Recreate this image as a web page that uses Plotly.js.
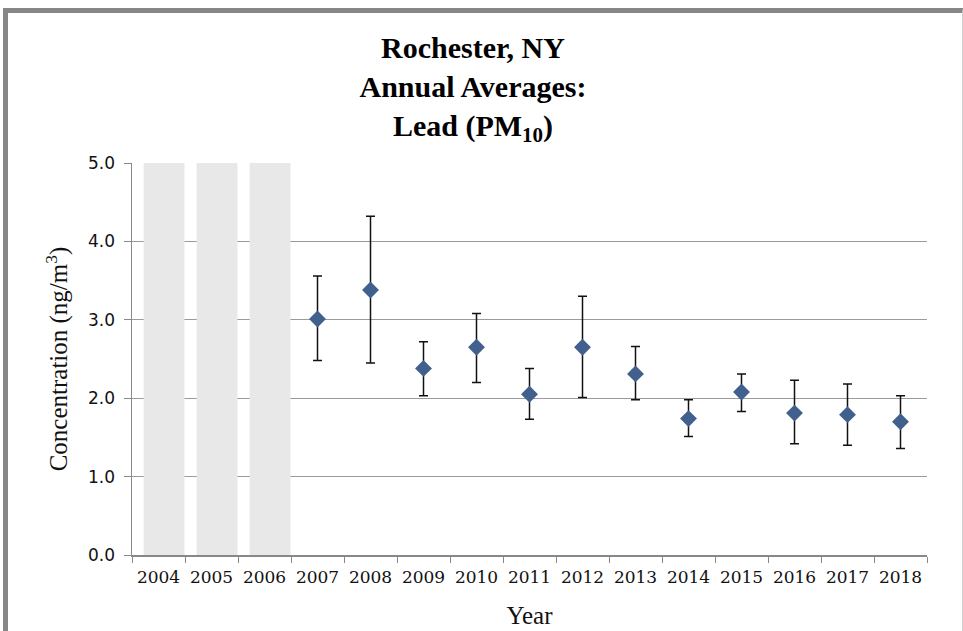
<!DOCTYPE html>
<html>
<head>
<meta charset="utf-8">
<script src="https://cdn.plot.ly/plotly-3.0.1.min.js"></script>
<style>
  html, body { margin: 0; padding: 0; background: #ffffff; }
  #chart { width: 963px; height: 631px; position: relative; }
  #frame { position: absolute; left: 3px; top: 8px; width: 960px; height: 623px;
           border-top: 5px solid #878787; border-left: 5px solid #878787; border-right: 1px solid #d0d0d0;
           box-sizing: border-box; pointer-events: none; }
</style>
</head>
<body>
<div id="chart"></div>
<div id="frame"></div>
<script>
// Categories (years)
const allYears = ["2004","2005","2006","2007","2008","2009","2010","2011","2012","2013","2014","2015","2016","2017","2018"];
// Years without data (shaded)
const noDataYears = ["2004","2005","2006"];
const noDataHeight = [5.0, 5.0, 5.0];
// Measured years
const dataYears = ["2007","2008","2009","2010","2011","2012","2013","2014","2015","2016","2017","2018"];
// Annual average lead concentration (ng/m3)
const annualMean = [3.01, 3.38, 2.38, 2.65, 2.05, 2.65, 2.31, 1.74, 2.08, 1.81, 1.79, 1.70];
// Error bar upper and lower limits
const upperLimit = [3.56, 4.32, 2.72, 3.08, 2.38, 3.30, 2.66, 1.98, 2.31, 2.23, 2.18, 2.03];
const lowerLimit = [2.48, 2.45, 2.03, 2.20, 1.73, 2.01, 1.98, 1.51, 1.83, 1.42, 1.40, 1.36];
// Y tick values
const yTicks = [0, 1, 2, 3, 4, 5];

const errPlus = upperLimit.map((u, i) => u - annualMean[i]);
const errMinus = lowerLimit.map((l, i) => annualMean[i] - l);

const serif = "Liberation Serif, Times New Roman, serif";

const traces = [
  {
    type: "bar",
    x: noDataYears,
    y: noDataHeight,
    width: 0.77,
    offset: -0.28,
    marker: { color: "#e8e8e8", line: { width: 0 } },
    hoverinfo: "skip",
    showlegend: false
  },
  {
    type: "scatter",
    mode: "markers",
    x: dataYears,
    y: annualMean,
    marker: { symbol: "diamond", size: 13, color: "#41608e", line: { width: 0 } },
    error_y: {
      type: "data",
      symmetric: false,
      array: errPlus,
      arrayminus: errMinus,
      color: "#111111",
      thickness: 1.5,
      width: 4.5
    },
    showlegend: false
  }
];

const layout = {
  width: 963,
  height: 631,
  margin: { l: 132, r: 36, t: 163, b: 76 },
  paper_bgcolor: "#ffffff",
  plot_bgcolor: "#ffffff",
  showlegend: false,
  title: {
    text: "<b>Rochester, NY<br>Annual Averages:<br>Lead (PM<sub>10</sub>)</b>",
    font: { family: serif, size: 30, color: "#000000" },
    xref: "container",
    x: 473 / 963,
    xanchor: "center",
    yref: "container",
    y: 1 - 58 / 631,
    yanchor: "top"
  },
  xaxis: {
    type: "category",
    categoryorder: "array",
    categoryarray: allYears,
    range: [-0.5, 14.5],
    tickson: "boundaries",
    ticks: "outside",
    ticklen: 6,
    tickcolor: "#888888",
    ticklabelstandoff: 6,
    showline: true,
    linecolor: "#888888",
    linewidth: 1.5,
    showgrid: false,
    zeroline: false,
    tickfont: { family: "DejaVu Serif, serif", size: 17, color: "#111111" },
    title: { text: "Year", font: { family: serif, size: 25, color: "#111111" }, standoff: 20 }
  },
  yaxis: {
    range: [0, 5],
    tickvals: yTicks,
    tickformat: ".1f",
    ticks: "outside",
    ticklen: 7,
    tickcolor: "#888888",
    ticklabelstandoff: 5,
    showline: true,
    linecolor: "#888888",
    linewidth: 1.5,
    showgrid: true,
    gridcolor: "#9a9a9a",
    gridwidth: 1,
    zeroline: false,
    tickfont: { family: "DejaVu Sans, sans-serif", size: 17, color: "#111111" },
    title: { text: "Concentration (ng/m<sup>3</sup>)", font: { family: serif, size: 25, color: "#111111" }, standoff: 13 }
  }
};

Plotly.newPlot("chart", traces, layout, { displayModeBar: false, staticPlot: true });
</script>
</body>
</html>
